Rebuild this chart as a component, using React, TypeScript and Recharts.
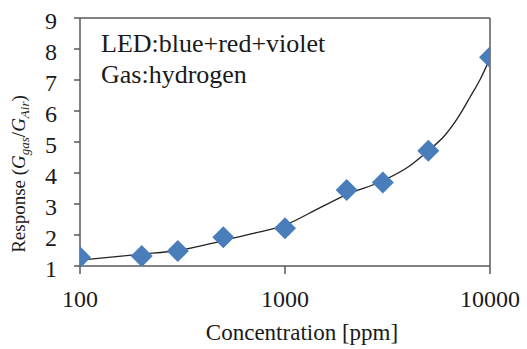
import React from 'react';
import { ComposedChart, XAxis, YAxis, Scatter, Line, ReferenceLine } from 'recharts';

const concentrations = [100, 200, 300, 500, 1000, 2000, 3000, 5000, 10000];
const responses = [1.28, 1.32, 1.48, 1.93, 2.22, 3.45, 3.69, 4.72, 7.73];

const fitConcentrations = [100, 150, 200, 300, 500, 700, 1000, 1500, 2000, 3000, 4000, 5000, 6000, 7000, 8000, 9000, 10000];
const fitResponses = [1.19, 1.3, 1.38, 1.5, 1.82, 2.05, 2.32, 2.9, 3.3, 3.75, 4.2, 4.72, 5.2, 5.8, 6.45, 7.05, 7.7];

const xTicks = [100, 1000, 10000];
const yTicks = [1, 2, 3, 4, 5, 6, 7, 8, 9];

const points = concentrations.map((c, i) => ({ x: c, y: responses[i] }));
const fit = fitConcentrations.map((c, i) => ({ x: c, y: fitResponses[i] }));

const FONT = "'Liberation Serif', 'DejaVu Serif', serif";
const AXIS = '#595959';
const TEXT = '#1a1a1a';
const BLUE = '#4a7ebb';

const serif = (size: number): React.CSSProperties => ({ fontFamily: FONT, fontSize: size });

const Diamond = (props: any) => {
  const { cx, cy } = props;
  const r = 11;
  return <polygon points={`${cx},${cy - r} ${cx + r},${cy} ${cx},${cy + r} ${cx - r},${cy}`} fill={BLUE} />;
};

const XTick = (props: any) => {
  const { x, y, payload } = props;
  return (
    <text x={x} y={y + 17} textAnchor="middle" style={serif(24)} fill={TEXT}>
      {payload.value}
    </text>
  );
};

const YTick = (props: any) => {
  const { x, y, payload } = props;
  return (
    <text x={x} y={y + 11} textAnchor="end" style={serif(24)} fill={TEXT}>
      {payload.value}
    </text>
  );
};

export default function App() {
  return (
    <div style={{ position: 'absolute', left: 0, top: 0, background: '#fff', fontFamily: FONT }}>
      <ComposedChart width={527} height={349} margin={{ top: 18, right: 37, bottom: 23, left: 30 }} style={{ fontFamily: FONT }}>
        <XAxis
          type="number"
          dataKey="x"
          scale="log"
          domain={[100, 10000]}
          ticks={xTicks}
          allowDataOverflow
          height={60}
          tickSize={8}
          tickMargin={16}
          axisLine={{ stroke: AXIS, strokeWidth: 1.5 }}
          tickLine={{ stroke: AXIS, strokeWidth: 1.5 }}
          tick={<XTick />}
        />
        <YAxis
          type="number"
          dataKey="y"
          domain={[1, 9]}
          ticks={yTicks}
          allowDataOverflow
          width={50}
          tickSize={6}
          tickMargin={17}
          axisLine={{ stroke: AXIS, strokeWidth: 1.5 }}
          tickLine={{ stroke: AXIS, strokeWidth: 1.5 }}
          tick={<YTick />}
        />
        <ReferenceLine y={9} stroke={AXIS} strokeWidth={1.5} />
        <ReferenceLine x={10000} stroke={AXIS} strokeWidth={1.5} />
        <Scatter data={points} shape={<Diamond />} isAnimationActive={false} />
        <Line
          data={fit}
          dataKey="y"
          type="monotone"
          stroke="#222"
          strokeWidth={1.3}
          dot={false}
          activeDot={false}
          isAnimationActive={false}
        />
        <text x={101} y={52} style={serif(26)} fill={TEXT}>LED:blue+red+violet</text>
        <text x={101} y={83} style={serif(26)} fill={TEXT}>Gas:hydrogen</text>
        <text x={302} y={340} textAnchor="middle" style={serif(23)} fill={TEXT}>Concentration [ppm]</text>
        <text
          x={25}
          y={174}
          textAnchor="middle"
          style={serif(19)}
          fill={TEXT}
          transform="rotate(-90, 25, 174)"
        >
          Response (<tspan fontStyle="italic">G</tspan>
          <tspan fontStyle="italic" style={{ fontSize: 13 }} dy={4}>gas</tspan>
          <tspan dy={-4}>/</tspan>
          <tspan fontStyle="italic">G</tspan>
          <tspan fontStyle="italic" style={{ fontSize: 13 }} dy={4}>Air</tspan>
          <tspan dy={-4}>)</tspan>
        </text>
      </ComposedChart>
    </div>
  );
}
